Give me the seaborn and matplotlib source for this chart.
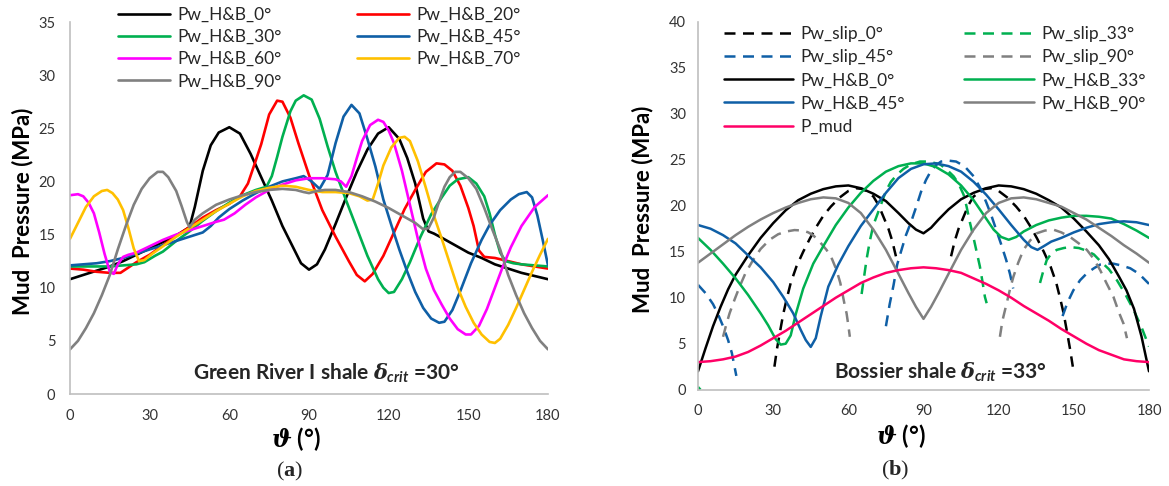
import numpy as np
import matplotlib
matplotlib.use("Agg")
import matplotlib.pyplot as plt
import seaborn as sns

sns.set_theme(style="white")
plt.rcParams["font.family"] = ["Lato", "DejaVu Sans"]
plt.rcParams["mathtext.fontset"] = "custom"
plt.rcParams["mathtext.it"] = "DejaVu Serif:italic:bold"
plt.rcParams["mathtext.sf"] = "Lato:italic:bold"
plt.rcParams["mathtext.rm"] = "Lato:bold"
plt.rcParams["mathtext.bf"] = "Liberation Serif:bold"

# ---------------- Panel (a): Green River I shale ----------------
A_LABELS = ["Pw_H&B_0°", "Pw_H&B_20°", "Pw_H&B_30°", "Pw_H&B_45°",
            "Pw_H&B_60°", "Pw_H&B_70°", "Pw_H&B_90°"]
A_COLORS = ["#000000", "#FF0000", "#00B050", "#0F5FA6", "#FF00FF", "#FFC000", "#808080"]

a0_th = [0, 5, 10, 15, 20, 25, 30, 35, 40, 45, 47, 50, 53, 56, 60, 64, 68, 72, 76, 80, 84, 87, 90,
         93, 96, 100, 104, 108, 112, 116, 120, 124, 127, 130, 133, 135, 137, 140, 145, 150, 155,
         160, 165, 170, 175, 180]
a0_p = [10.8, 11.2, 11.6, 12.0, 12.5, 13.1, 13.7, 14.3, 14.9, 15.7, 17.6, 21.0, 23.4, 24.6, 25.1,
        24.5, 22.6, 20.4, 18.2, 15.8, 13.8, 12.3, 11.7, 12.2, 13.6, 16.0, 18.5, 20.9, 23.0, 24.5,
        25.1, 24.0, 22.2, 19.8, 16.5, 15.3, 15.1, 14.7, 14.0, 13.3, 12.8, 12.2, 11.8, 11.4, 11.1, 10.8]

a20_th = [0, 5, 10, 15, 19, 22, 25, 30, 35, 40, 45, 50, 55, 60, 64, 67, 70, 72, 75, 78, 80, 83, 86,
          90, 95, 100, 105, 108, 111, 114, 118, 122, 126, 130, 134, 138, 141, 144, 147, 150, 152,
          154, 156, 160, 165, 170, 175, 180]
a20_p = [11.8, 11.7, 11.5, 11.4, 11.4, 11.9, 12.4, 13.1, 14.0, 14.9, 15.7, 16.6, 17.3, 17.9, 18.6,
         19.8, 22.0, 23.5, 26.3, 27.6, 27.5, 26.0, 23.6, 20.6, 17.3, 14.8, 12.5, 11.2, 10.6, 11.3,
         13.0, 15.2, 17.4, 19.2, 20.9, 21.7, 21.6, 21.0, 19.6, 17.5, 15.8, 13.5, 12.9, 12.8, 12.5,
         12.2, 12.0, 11.8]

a30_th = [0, 5, 10, 15, 20, 25, 28, 32, 35, 40, 45, 50, 55, 60, 65, 70, 74, 76, 78, 80, 83, 85, 88,
          91, 94, 97, 100, 104, 108, 112, 116, 118, 120, 122, 125, 128, 132, 136, 140, 143, 146,
          150, 153, 156, 158, 160, 162, 164, 167, 170, 175, 180]
a30_p = [12.0, 12.0, 12.0, 12.0, 12.1, 12.2, 12.4, 13.0, 13.4, 14.4, 15.3, 16.3, 17.2, 18.0, 18.7,
         19.2, 19.5, 20.5, 22.3, 24.2, 26.6, 27.6, 28.1, 27.7, 25.9, 23.3, 20.9, 18.2, 15.6, 13.0,
         10.8, 10.0, 9.5, 9.6, 10.8, 12.4, 14.8, 16.9, 18.5, 19.6, 20.2, 20.4, 19.8, 18.6, 17.0,
         15.0, 13.3, 12.5, 12.3, 12.2, 12.1, 12.0]

a45_th = [0, 5, 10, 15, 20, 25, 30, 35, 40, 45, 50, 53, 56, 60, 65, 70, 75, 80, 85, 88, 91, 94, 97,
          100, 103, 106, 109, 112, 115, 118, 121, 124, 127, 130, 133, 136, 139, 141, 144, 147, 151,
          155, 158, 162, 166, 169, 172, 174, 176, 178, 180]
a45_p = [12.1, 12.2, 12.3, 12.5, 12.8, 13.2, 13.6, 14.0, 14.4, 14.8, 15.2, 15.8, 16.6, 17.4, 18.2,
         18.9, 19.5, 20.0, 20.3, 20.5, 20.0, 19.3, 20.6, 23.6, 26.1, 27.2, 26.4, 24.0, 21.4, 18.3,
         15.9, 13.6, 11.5, 9.6, 8.1, 7.1, 6.7, 6.8, 7.9, 9.7, 12.3, 14.5, 15.9, 17.3, 18.3, 18.8,
         19.0, 18.5, 16.8, 14.5, 12.1]

a60_th = [0, 3, 5, 7, 9, 11, 13, 15, 16.5, 18, 20, 22, 25, 30, 35, 40, 45, 50, 55, 58, 62, 66, 70,
          75, 80, 85, 90, 95, 100, 102, 104, 106, 108, 110, 113, 116, 118, 120, 122, 125, 128, 131,
          134, 137, 140, 143, 146, 149, 151, 154, 157, 160, 163, 166, 170, 175, 180]
a60_p = [18.7, 18.8, 18.6, 18.0, 17.0, 15.2, 13.2, 11.5, 11.3, 12.2, 12.9, 13.1, 13.3, 13.9, 14.5,
         15.0, 15.4, 15.8, 16.2, 16.4, 17.0, 17.8, 18.5, 19.2, 19.7, 20.1, 20.3, 20.3, 20.2, 20.0,
         19.5, 20.5, 22.2, 23.8, 25.3, 25.8, 25.6, 24.8, 23.6, 21.0, 17.8, 14.6, 11.8, 9.8, 8.4,
         7.1, 6.1, 5.6, 5.6, 6.4, 8.0, 10.0, 12.0, 13.8, 15.8, 17.6, 18.7]

a70_th = [0, 3, 6, 9, 12, 14, 16, 18, 20, 22, 24, 26, 28, 31, 35, 40, 45, 50, 55, 60, 65, 70, 75,
          80, 85, 90, 95, 100, 105, 109, 112, 114, 116, 118, 121, 124, 126, 128, 131, 134, 137, 140,
          143, 146, 149, 152, 155, 158, 160, 162, 165, 168, 171, 174, 177, 180]
a70_p = [14.6, 16.1, 17.6, 18.6, 19.1, 19.2, 18.9, 18.3, 17.3, 15.6, 13.7, 12.5, 12.6, 13.2, 13.9,
         14.8, 15.6, 16.4, 17.2, 17.9, 18.6, 19.1, 19.4, 19.6, 19.5, 19.2, 19.0, 19.0, 18.9, 18.6,
         18.2, 18.3, 19.8, 21.5, 23.2, 24.1, 24.2, 23.8, 21.9, 19.4, 16.8, 14.6, 12.3, 10.0, 8.2,
         6.7, 5.6, 4.9, 4.8, 5.2, 6.5, 8.1, 9.8, 11.5, 13.1, 14.6]

a90_th = [0, 3, 6, 9, 12, 15, 18, 21, 24, 27, 30, 33, 35, 37, 40, 42, 44, 45, 47, 50, 55, 60, 65,
          70, 75, 80, 85, 88, 90, 93, 96, 100, 105, 110, 115, 120, 125, 130, 133, 135, 137, 139,
          141, 143, 145, 147, 150, 153, 156, 159, 162, 165, 168, 171, 174, 177, 180]
a90_p = [4.2, 5.0, 6.2, 7.6, 9.3, 11.2, 13.6, 15.8, 17.8, 19.3, 20.3, 20.9, 20.9, 20.4, 19.1, 17.7,
         16.2, 15.7, 16.4, 17.0, 17.8, 18.3, 18.7, 19.0, 19.2, 19.3, 19.2, 19.0, 18.9, 19.1, 19.2,
         19.2, 19.0, 18.6, 18.1, 17.5, 16.8, 16.1, 15.5, 15.6, 16.6, 18.1, 19.5, 20.4, 20.9, 20.9,
         20.3, 19.3, 17.5, 15.5, 13.6, 11.2, 9.3, 7.6, 6.2, 5.0, 4.2]

# ---------------- Panel (b): Bossier shale ----------------
B_LABELS = ["Pw_slip_0°", "Pw_slip_33°", "Pw_slip_45°", "Pw_slip_90°",
            "Pw_H&B_0°", "Pw_H&B_33°", "Pw_H&B_45°", "Pw_H&B_90°", "P_mud"]
B_COLORS = ["#000000", "#00B050", "#0F5FA6", "#808080",
            "#000000", "#00B050", "#0F5FA6", "#808080", "#FF0066"]
B_DASHED = [True, True, True, True, False, False, False, False, False]

nan = np.nan
bs0_th = [30.5, 31.5, 32.6, 34, 35.3, 37, 39.3, 42, 44.6, 47, 50, 53, 56.6, 60, 63, 66, 70, 72, 74,
          76, 77.5, 79, nan, 101, 102.5, 104, 106, 108, 110, 114, 117, 120, 123.4, 127, 130, 133,
          135.4, 138, 140.7, 143, 144.7, 146, 147.4, 148.5, 149.6]
bs0_p = [2.5, 4.4, 6.1, 8.2, 9.75, 11.6, 13.4, 15.0, 16.4, 17.6, 18.9, 19.9, 20.9, 21.6, 21.9,
         21.8, 21.0, 20.1, 18.8, 17.5, 16.2, 14.5, nan, 14.5, 16.2, 17.5, 18.8, 20.1, 21.0, 21.8,
         21.9, 21.6, 20.9, 19.9, 18.9, 17.6, 16.4, 15.0, 13.4, 11.6, 9.75, 8.2, 6.1, 4.4, 2.5]

bs33_th = [0, 1.0, nan, 65.3, 66.3, 67.3, 68.6, 70, 72.6, 75, 77, 79.5, 82, 85, 88.6, 92, 96.6, 99,
           102, 104, 106, 107.2, 108.5, 109.9, 111.2, 112.5, 113.5, 114.5, 115.2, nan, 136.5,
           137.8, 139.2, 141, 143.2, 146, 148.5, 152, 155.2, 158, 160.5, 164, 167.2, 170.5, 173.8,
           177, 180]
bs33_p = [0.3, 0.0, nan, 10.4, 12.3, 14.2, 16.2, 17.9, 19.8, 21.6, 22.6, 23.4, 24.0, 24.5, 24.8,
          24.8, 24.5, 24.0, 23.2, 22.4, 21.2, 19.9, 18.2, 16.6, 15.0, 13.4, 11.8, 10.1, 9.4, nan,
          11.6, 12.9, 14.1, 14.8, 15.2, 15.4, 15.5, 15.4, 15.1, 14.7, 14.0, 13.1, 11.9, 10.4, 8.7,
          6.8, 4.7]

bs45_th = [0, 3, 6, 8, 10, 12, 13.5, 15.3, nan, 75, 76.5, 78, 79.5, 81, 83, 85, 87, 89, 91, 93, 95,
           97, 100, 103, 105, 107, 110, 112.5, 115, 117, 119, 121, 123, 124.5, 125.8, nan, 145.5,
           147.5, 149.8, 152.5, 155.2, 158, 160.5, 163, 165.8, 169, 172.5, 176, 180]
bs45_p = [11.4, 10.5, 9.3, 8.2, 6.9, 5.4, 4.0, 1.5, nan, 6.9, 9.3, 11.3, 13.6, 15.0, 16.8, 18.2,
          19.8, 21.5, 22.8, 23.8, 24.4, 24.8, 24.9, 24.8, 24.5, 24.1, 23.2, 22.0, 20.4, 19.0, 17.4,
          15.8, 14.1, 12.6, 11.0, nan, 8.0, 9.5, 10.8, 11.9, 12.65, 13.2, 13.6, 13.7, 13.7, 13.5,
          13.2, 12.6, 11.5]

bs90_th = [10, 11.3, 12.6, 14.6, 16.6, 19, 22, 25, 28.6, 32, 35.3, 38.5, 41.9, 44, 45.9, 48.5, 51.3,
           53.5, 55.3, 56.8, 57.9, 58.7, 59.3, 60, 60.6, nan, 120.5, 121.5, 123.2, 124.5, 125.9,
           127.8, 129.9, 132.5, 135.2, 138.5, 141.8, 145, 148.5, 152, 155.2, 158, 160.5, 163,
           165.8, 168, 169.8, 171.2]
bs90_p = [5.75, 7.1, 8.3, 9.8, 11.2, 12.7, 14.1, 15.3, 16.3, 16.9, 17.2, 17.35, 17.3, 17.1, 16.8,
          16.1, 15.2, 14.2, 13.0, 11.6, 10.1, 9.0, 8.3, 7.0, 5.75, nan, 5.75, 7.5, 9.4, 10.9, 12.3,
          13.8, 15.2, 16.2, 17.0, 17.3, 17.4, 17.1, 16.6, 15.9, 15.2, 14.2, 13.0, 11.6, 10.1, 8.4,
          7.2, 5.6]

bh0_th = [0, 3, 6, 9, 12, 15, 20, 25, 30, 35, 40, 45, 50, 55, 60, 65, 70, 75, 80, 84, 87, 90, 93,
          96, 100, 105, 110, 115, 120, 125, 130, 135, 140, 145, 150, 155, 160, 164, 168, 171, 174,
          177, 180]
bh0_p = [2.0, 4.5, 6.9, 9.0, 10.9, 12.5, 14.6, 16.5, 18.1, 19.5, 20.6, 21.3, 21.8, 22.1, 22.2,
         21.9, 21.3, 20.5, 19.2, 18.1, 17.4, 17.0, 17.6, 18.5, 19.6, 20.7, 21.4, 21.9, 22.2, 22.1,
         21.8, 21.3, 20.6, 19.8, 18.6, 17.2, 15.7, 14.2, 12.3, 10.8, 8.8, 5.8, 2.0]

bh33_th = [0, 5, 10, 15, 20, 25, 28, 31, 33, 35, 37, 39, 42, 46, 50, 55, 60, 65, 70, 75, 80, 85, 90,
           95, 100, 105, 110, 114, 118, 121, 124, 127, 130, 135, 140, 145, 150, 155, 160, 165, 170,
           175, 180]
bh33_p = [16.5, 15.2, 13.7, 12.1, 10.3, 8.3, 7.0, 5.5, 4.9, 5.0, 5.9, 8.2, 11.0, 13.7, 15.6, 17.9,
          19.8, 21.4, 22.7, 23.7, 24.3, 24.6, 24.6, 24.2, 23.4, 22.2, 20.6, 19.0, 17.4, 16.6, 16.3,
          16.6, 17.2, 17.9, 18.4, 18.7, 18.9, 18.9, 18.8, 18.6, 18.0, 17.3, 16.5]

bh45_th = [0, 5, 10, 15, 20, 25, 30, 34, 38, 41, 43, 45, 47, 49, 52, 56, 60, 65, 70, 75, 80, 85, 90,
           95, 100, 105, 110, 115, 120, 125, 130, 133, 135.5, 138, 141, 145, 150, 155, 160, 165,
           170, 175, 180]
bh45_p = [17.9, 17.5, 16.8, 15.9, 14.6, 13.3, 11.7, 10.1, 8.3, 6.5, 5.4, 4.65, 5.6, 8.0, 11.2, 13.6,
          15.6, 17.8, 19.6, 21.4, 23.0, 24.0, 24.5, 24.6, 24.3, 23.7, 22.6, 21.2, 19.6, 17.9, 16.3,
          15.5, 15.2, 15.6, 16.1, 16.5, 17.1, 17.6, 18.0, 18.2, 18.3, 18.2, 17.9]

bh90_th = [0, 5, 10, 15, 20, 25, 30, 35, 40, 45, 50, 55, 60, 65, 70, 75, 80, 84, 87, 90, 93, 96, 100,
           105, 110, 115, 120, 125, 130, 135, 140, 145, 150, 155, 160, 165, 170, 175, 180]
bh90_p = [13.8, 14.8, 15.8, 16.8, 17.7, 18.5, 19.2, 19.8, 20.3, 20.7, 20.9, 20.8, 20.3, 19.2, 17.4,
          15.2, 12.6, 10.5, 9.0, 7.7, 9.0, 10.5, 12.6, 15.2, 17.4, 19.2, 20.3, 20.8, 20.9, 20.7,
          20.3, 19.9, 19.2, 18.5, 17.6, 16.7, 15.7, 14.8, 13.8]

mud_th = [0, 5, 10, 15, 20, 25, 30, 35, 40, 45, 50, 55, 60, 65, 70, 75, 80, 85, 90, 95, 100, 105,
          110, 115, 120, 125, 130, 135, 140, 145, 150, 155, 160, 165, 170, 175, 180]
mud_p = [3.0, 3.1, 3.3, 3.6, 4.1, 4.8, 5.6, 6.4, 7.3, 8.2, 9.1, 10.0, 10.8, 11.6, 12.2, 12.7, 13.0,
         13.2, 13.3, 13.2, 13.0, 12.7, 12.1, 11.5, 10.8, 10.0, 9.1, 8.3, 7.5, 6.6, 5.8, 5.0, 4.3,
         3.8, 3.3, 3.1, 3.0]

A_SERIES = [(a0_th, a0_p), (a20_th, a20_p), (a30_th, a30_p), (a45_th, a45_p),
            (a60_th, a60_p), (a70_th, a70_p), (a90_th, a90_p)]
B_SERIES = [(bs0_th, bs0_p), (bs33_th, bs33_p), (bs45_th, bs45_p), (bs90_th, bs90_p),
            (bh0_th, bh0_p), (bh33_th, bh33_p), (bh45_th, bh45_p), (bh90_th, bh90_p),
            (mud_th, mud_p)]

DASH = (0, (4.4, 3.0))


def draw(ax, th, p, color, dashed, lw):
    th = np.asarray(th, float)
    p = np.asarray(p, float)
    cuts = np.where(np.isnan(p))[0]
    handle = None
    for seg in np.split(np.arange(len(p)), cuts):
        seg = seg[~np.isnan(p[seg])]
        if len(seg) == 0:
            continue
        sns.lineplot(x=th[seg], y=p[seg], ax=ax, color=color, lw=lw, estimator=None,
                     sort=False, legend=False,
                     linestyle=DASH if dashed else "-")
        line = ax.lines[-1]
        line.set_solid_capstyle("round")
        if handle is None:
            handle = line
    return handle


W, H = 1169, 486
fig = plt.figure(figsize=(W / 100, H / 100), dpi=100)
axA = fig.add_axes([70 / W, 1 - 394 / H, 478 / W, 372 / H])
axB = fig.add_axes([698 / W, 1 - 389.7 / H, 451 / W, 368 / H])

hA = [draw(axA, th, p, c, False, 1.9) for (th, p), c in zip(A_SERIES, A_COLORS)]
hB = [draw(axB, th, p, c, d, 1.8) for (th, p), c, d in zip(B_SERIES, B_COLORS, B_DASHED)]

for ax, ymax in ((axA, 35), (axB, 40)):
    ax.set_xlim(0, 180)
    ax.set_ylim(0, ymax)
    ax.set_xticks(range(0, 181, 30))
    ax.set_yticks(range(0, ymax + 1, 5))
    for s in ("top", "right"):
        ax.spines[s].set_visible(False)
    for s in ("left", "bottom"):
        ax.spines[s].set_color("#BFBFBF")
        ax.spines[s].set_linewidth(1.2)
    ax.tick_params(length=0, labelsize=10.5, colors="#333333")
    ax.set_facecolor("white")

axA.tick_params(axis="y", pad=10.5)
axA.tick_params(axis="x", pad=11)
axB.tick_params(axis="y", pad=8.5)
axB.tick_params(axis="x", pad=10.5)

ylab = "Mud  Pressure (MPa)"
xlab = r"$\mathit{\vartheta}$ (°)"
axA.set_ylabel(ylab, fontsize=16, fontweight="bold", color="black")
axA.yaxis.set_label_coords(-0.077, 0.49)
axB.set_ylabel(ylab, fontsize=16, fontweight="bold", color="black")
axB.yaxis.set_label_coords(-0.098, 0.49)
axA.set_xlabel(xlab, fontsize=17, fontweight="bold", color="black")
axA.xaxis.set_label_coords(0.472, -0.085)
axB.set_xlabel(xlab, fontsize=17, fontweight="bold", color="black")
axB.xaxis.set_label_coords(0.45, -0.087)

axA.text(96.5, 1.3, r"Green River I shale $\mathit{\delta}_{\mathsf{crit}}$ =30°", ha="center",
         va="baseline", fontsize=15, fontweight="bold")
axB.text(96.8, 1.16, r"Bossier shale $\mathit{\delta}_{\mathsf{crit}}$ =33°", ha="center",
         va="baseline", fontsize=15, fontweight="bold")

# legends (column-major order reproduces the row-wise Excel layout)
orderA = [0, 2, 4, 6, 1, 3, 5]
axA.legend([hA[i] for i in orderA], [A_LABELS[i] for i in orderA], ncol=2, frameon=False,
           loc="upper left", bbox_to_anchor=(0.1, 1.041), fontsize=12.5, handlelength=3.0,
           handletextpad=0.45, columnspacing=4.3, labelspacing=0.36, borderpad=0,
           borderaxespad=0)
orderB = [0, 2, 4, 6, 8, 1, 3, 5, 7]
axB.legend([hB[i] for i in orderB], [B_LABELS[i] for i in orderB], ncol=2, frameon=False,
           loc="upper left", bbox_to_anchor=(0.057, 0.988), fontsize=12.5, handlelength=4.0,
           handletextpad=0.44, columnspacing=3.4, labelspacing=0.41, borderpad=0,
           borderaxespad=0)

fig.text(290 / W, 1 - 471.7 / H, r"($\mathbf{a}$)", ha="center", va="center", fontsize=16,
         family=["Liberation Serif", "DejaVu Serif"])
fig.text(895 / W, 1 - 470 / H, r"($\mathbf{b}$)", ha="center", va="center", fontsize=16,
         family=["Liberation Serif", "DejaVu Serif"])

fig.savefig("out.png", dpi=100, facecolor="white")
